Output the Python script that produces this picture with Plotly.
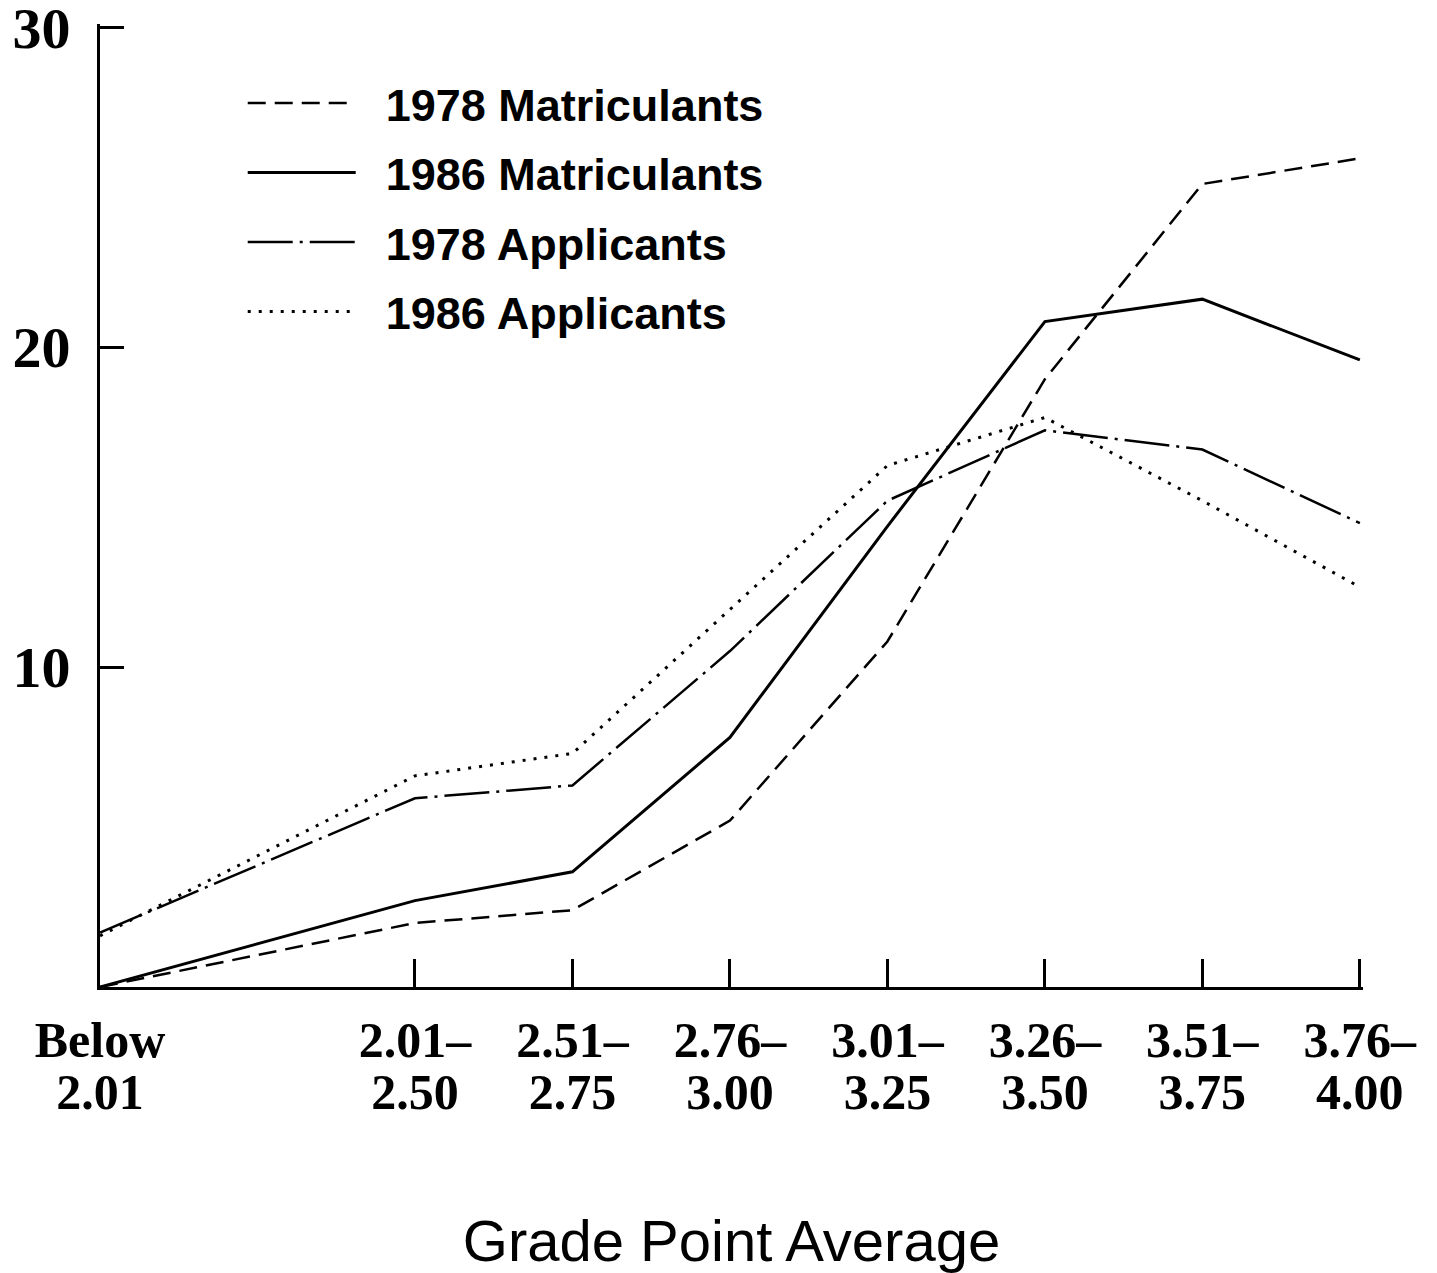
import plotly.graph_objects as go

# ---- data ----
gpa_top_line = ["Below", "2.01–", "2.51–", "2.76–", "3.01–", "3.26–", "3.51–", "3.76–"]
gpa_bottom_line = ["2.01", "2.50", "2.75", "3.00", "3.25", "3.50", "3.75", "4.00"]
matric_1978 = [0.0, 2.0, 2.4, 5.2, 10.8, 19.0, 25.1, 25.9]
matric_1986 = [0.0, 2.7, 3.6, 7.8, 14.4, 20.8, 21.5, 19.6]
applic_1978 = [1.7, 5.9, 6.3, 10.5, 15.2, 17.4, 16.8, 14.5]
applic_1986 = [1.6, 6.6, 7.3, 11.8, 16.3, 17.8, 15.2, 12.5]
y_tick_values = [10, 20, 30]

# the first GPA interval occupies a double-width slot on the axis
x_slots = [0] + list(range(2, len(gpa_top_line) + 1))
# a hair of padding so the end ticks (3.76–4.00 and 30) are not clipped
x_range = [0, len(gpa_top_line) + 0.02]
y_range = [0, 30.1]

series = [
    ("1978 Matriculants", matric_1978, "18px,9px", 2.5, "x"),
    ("1986 Matriculants", matric_1986, "solid", 3, "x"),
    ("1978 Applicants", applic_1978, "45px,7px,3px,7px", 2.5, "x"),
    ("1986 Applicants", applic_1986, "3px,8px", 3, "x2"),
]

NB = "\u00a0\u00a0"
fig = go.Figure()
for i, (name, vals, dash, w, xa) in enumerate(series):
    fig.add_trace(go.Scatter(
        x=x_slots, y=vals, name=NB + name, mode="lines",
        line=dict(color="black", width=w, dash=dash),
        legendgroup=f"g{i}", xaxis=xa, yaxis="y",
    ))

serif = "Liberation Serif, Times New Roman, serif"
sans = "Liberation Sans, Arial, sans-serif"

fig.update_layout(
    width=1437, height=1273,
    paper_bgcolor="white", plot_bgcolor="white",
    margin=dict(l=100, r=74, t=24, b=286),
    showlegend=True,
    legend=dict(
        x=0.113, y=0.955, xanchor="left", yanchor="top",
        font=dict(family=sans, size=45, color="black", weight="bold"),
        bgcolor="rgba(0,0,0,0)", itemwidth=108, tracegroupgap=8,
    ),
    xaxis=dict(
        range=x_range, tickmode="array", tickvals=x_slots, ticktext=gpa_top_line,
        ticks="inside", ticklen=28, tickwidth=3, tickcolor="black",
        showline=True, linecolor="black", linewidth=3, showgrid=False, zeroline=False,
        tickfont=dict(family=serif, size=50, color="black", weight="bold"),
        ticklabelstandoff=7, automargin=False, ticklabeloverflow="allow",
    ),
    xaxis2=dict(
        range=x_range, overlaying="x", anchor="y", side="bottom",
        tickmode="array", tickvals=x_slots, ticktext=gpa_bottom_line,
        ticks="", showline=False, showgrid=False, zeroline=False,
        tickfont=dict(family=serif, size=50, color="black", weight="bold"),
        ticklabelstandoff=71, automargin=False, ticklabeloverflow="allow",
        title=dict(text="Grade Point Average", standoff=112,
                   font=dict(family=sans, size=58, color="black")),
    ),
    yaxis=dict(
        range=y_range, tickmode="array", tickvals=y_tick_values,
        ticks="inside", ticklen=24, tickwidth=3, tickcolor="black",
        showline=True, linecolor="black", linewidth=3, showgrid=False, zeroline=False,
        tickfont=dict(family=serif, size=58, color="black", weight="bold"),
        ticklabelstandoff=15, automargin=False, ticklabeloverflow="allow",
    ),
)

fig.write_html("out.html", config={"displayModeBar": False},
               post_script="document.body.style.margin='0px';")
